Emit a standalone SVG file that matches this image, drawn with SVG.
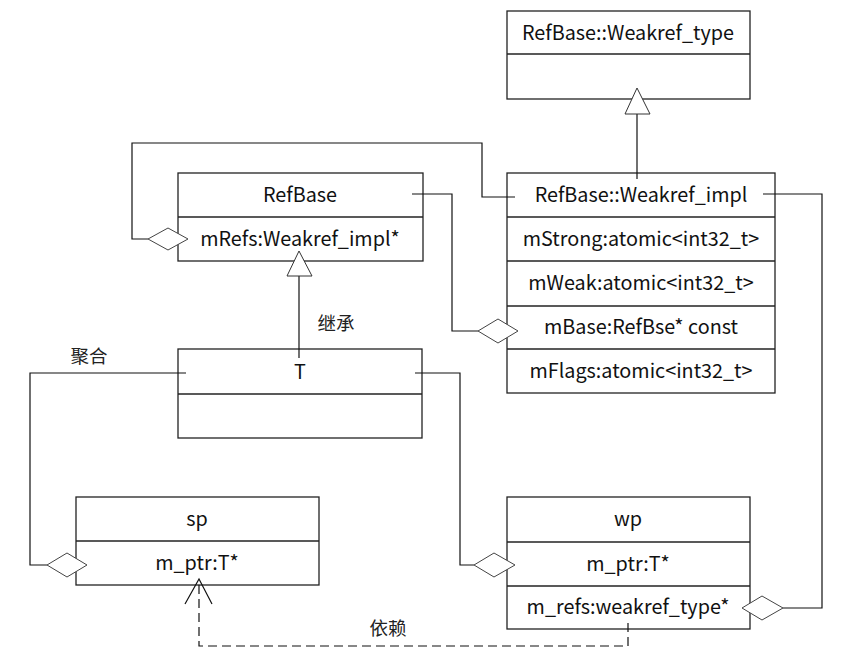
<svg xmlns="http://www.w3.org/2000/svg" width="855" height="668" viewBox="0 0 855 668">
<style>
.box{fill:#fff;stroke:#222;stroke-width:1.3}
.div{stroke:#222;stroke-width:1.3}
.t{font-family:"Noto Sans CJK SC","Noto Sans",sans-serif;font-size:19.8px;fill:#111;text-anchor:middle;dominant-baseline:central}
.c{fill:none;stroke:#111;stroke-width:1.2}
.dia{fill:#fff;stroke:#444;stroke-width:1}
.tri{fill:#fff;stroke:#333;stroke-width:1}
.dash{fill:none;stroke:#111;stroke-width:1.2;stroke-dasharray:9 5}
.lbl{font-family:"Noto Sans CJK SC",sans-serif;font-size:18.5px;fill:#222;text-anchor:middle;dominant-baseline:central}
</style>
<rect width="855" height="668" fill="#fff"/>
<g id="weakref_type">
<rect class="box" x="507" y="11" width="243" height="88"/>
<line class="div" x1="507" y1="54" x2="750" y2="54"/>
<text class="t" x="628" y="31.5">RefBase::Weakref_type</text>
</g>
<g id="weakref_impl">
<rect class="box" x="507" y="173" width="268" height="220"/>
<line class="div" x1="507" y1="217" x2="775" y2="217"/>
<line class="div" x1="507" y1="261" x2="775" y2="261"/>
<line class="div" x1="507" y1="306" x2="775" y2="306"/>
<line class="div" x1="507" y1="349" x2="775" y2="349"/>
<text class="t" x="641" y="193.5">RefBase::Weakref_impl</text>
<text class="t" x="641" y="237.5">mStrong:atomic&lt;int32_t&gt;</text>
<text class="t" x="641" y="281.5">mWeak:atomic&lt;int32_t&gt;</text>
<text class="t" x="641" y="325.5">mBase:RefBse* const</text>
<text class="t" x="641" y="369.5">mFlags:atomic&lt;int32_t&gt;</text>
</g>
<g id="refbase">
<rect class="box" x="178" y="173" width="245" height="88"/>
<line class="div" x1="178" y1="217" x2="423" y2="217"/>
<text class="t" x="300" y="193.5">RefBase</text>
<text class="t" x="300" y="237.5">mRefs:Weakref_impl*</text>
</g>
<g id="T">
<rect class="box" x="178" y="349" width="244" height="89"/>
<line class="div" x1="178" y1="394" x2="422" y2="394"/>
<text class="t" x="300" y="370.5">T</text>
</g>
<g id="sp">
<rect class="box" x="76" y="497" width="243" height="88"/>
<line class="div" x1="76" y1="541" x2="319" y2="541"/>
<text class="t" x="197" y="517.5">sp</text>
<text class="t" x="197" y="561.5">m_ptr:T*</text>
</g>
<g id="wp">
<rect class="box" x="507" y="497" width="243" height="132"/>
<line class="div" x1="507" y1="542" x2="750" y2="542"/>
<line class="div" x1="507" y1="586" x2="750" y2="586"/>
<text class="t" x="628" y="517.5">wp</text>
<text class="t" x="628" y="562.5">m_ptr:T*</text>
<text class="t" x="628" y="605.5">m_refs:weakref_type*</text>
</g>
<g id="connectors">
<path class="c" d="M637 179 V114"/>
<polygon class="tri" points="637,88 625,114 650,114"/>
<path class="c" d="M299 358 V276"/>
<polygon class="tri" points="299,251 287,276 312,276"/>
<path class="c" d="M148 239 H132 V143 H482 V197 H515"/>
<polygon class="dia" points="148,239 168,228 188,239 168,250"/>
<path class="c" d="M412 194 H452 V331 H478"/>
<polygon class="dia" points="478,331 498,319 518,331 498,343"/>
<path class="c" d="M763 194 H822 V608 H783"/>
<polygon class="dia" points="742,608 762,596 783,608 762,620"/>
<path class="c" d="M186 373 H30 V565 H47"/>
<polygon class="dia" points="47,565 67,553 87,565 67,577"/>
<path class="c" d="M415 373 H460 V565 H474"/>
<polygon class="dia" points="474,565 494,553 515,565 494,577"/>
<path class="dash" d="M628 623 V646 H199 V581"/>
<path class="c" d="M185 604 L199 579 L212 604"/>
<text class="lbl" x="89" y="355">聚合</text>
<text class="lbl" x="336" y="322">继承</text>
<text class="lbl" x="388" y="627">依赖</text>
</g>
</svg>
